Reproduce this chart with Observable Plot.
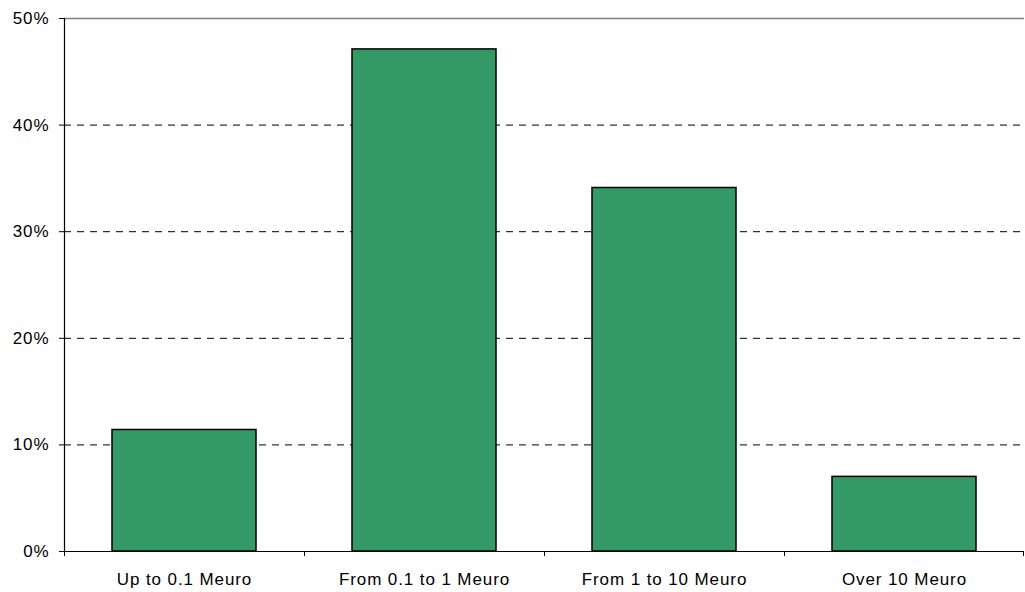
<!DOCTYPE html>
<html>
<head>
<meta charset="utf-8">
<script src="https://cdn.jsdelivr.net/npm/d3@7"></script>
<script src="https://cdn.jsdelivr.net/npm/@observablehq/plot@0.6"></script>
<style>
  html, body { margin: 0; padding: 0; background: #fff; }
  #chart svg { display: block; }
  #chart svg text { letter-spacing: 0.9px; }
</style>
</head>
<body>
<div id="chart"></div>
<script>
const categories = ["Up to 0.1 Meuro", "From 0.1 to 1 Meuro", "From 1 to 10 Meuro", "Over 10 Meuro"];
const shares = [0.114, 0.471, 0.341, 0.070];
const yTicks = [0, 0.1, 0.2, 0.3, 0.4, 0.5];
const gridTicks = [0.1, 0.2, 0.3, 0.4];

const data = categories.map((c, i) => ({category: c, share: shares[i]}));

const W = 1025, H = 592;
const mL = 64, mR = 1, mT = 18, mB = 41;
const halfStep = (W - mL - mR) / categories.length / 2;

const chart = Plot.plot({
  width: W,
  height: H,
  marginLeft: mL,
  marginRight: mR,
  marginTop: mT,
  marginBottom: mB,
  style: {fontFamily: "'Liberation Sans', Arial, sans-serif", fontSize: "17px", color: "#000", background: "#fff"},
  x: {domain: categories, paddingInner: 0.4, paddingOuter: 0.2, label: null},
  y: {domain: [0, 0.5], label: null},
  marks: [
    Plot.gridY(gridTicks, {stroke: "#000", strokeOpacity: 1, strokeDasharray: "7,6", strokeWidth: 1}),
    Plot.ruleY([0.5], {stroke: "#808080", strokeWidth: 1.5}),
    Plot.barY(data, {x: "category", y: "share", fill: "#339966", stroke: "#000", strokeWidth: 1.5}),
    Plot.ruleY([0], {stroke: "#000", strokeWidth: 1.2}),
    Plot.frame({anchor: "left", stroke: "#000", strokeWidth: 1.2}),
    Plot.axisY(yTicks, {tickFormat: d => Math.round(d * 100) + "%", tickSize: 5, tickPadding: 10, stroke: "#000", fontSize: 17}),
    Plot.axisX(categories, {tickSize: 0, tickPadding: 21, fontSize: 17}),
    Plot.axisX(categories, {tickSize: 5, tickFormat: () => "", dx: -halfStep}),
    Plot.axisX(categories.slice(-1), {tickSize: 5, tickFormat: () => "", dx: halfStep - 1})
  ]
});
document.getElementById("chart").appendChild(chart);
</script>
</body>
</html>
